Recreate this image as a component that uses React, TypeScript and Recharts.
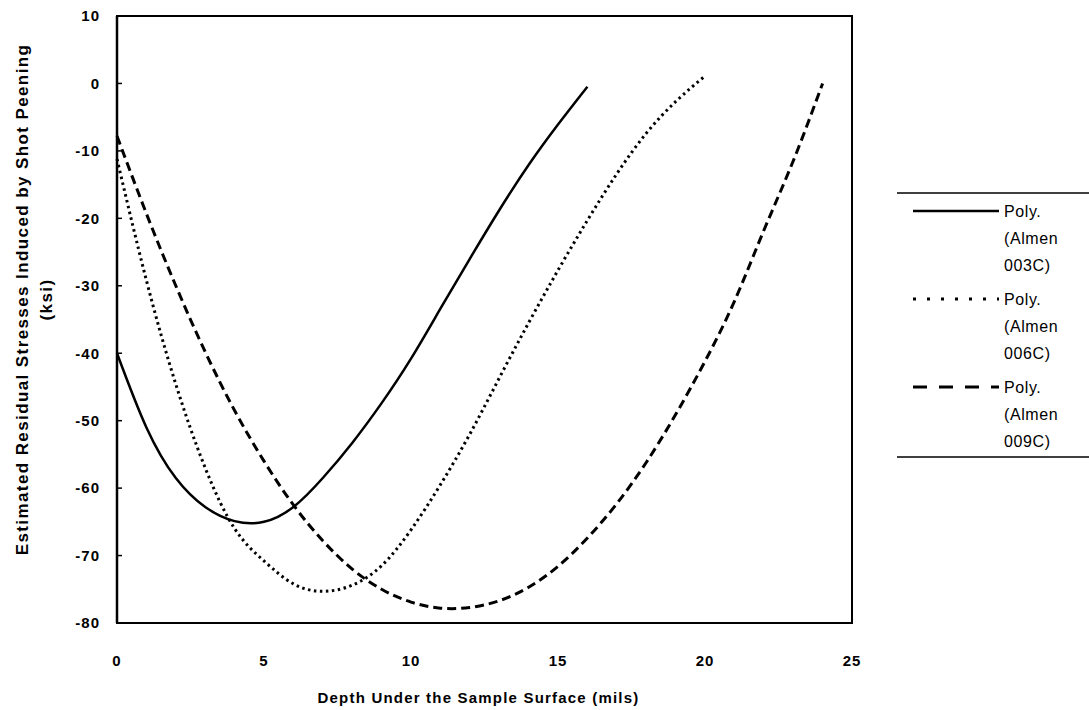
import { LineChart, Line, XAxis, YAxis, ReferenceArea, Legend, Label } from "recharts";

// depth (mils) vs. estimated residual stress (ksi), one polynomial fit per Almen intensity
const depth003C = [0, 1, 2, 3, 4, 5, 6, 7, 8, 9, 10, 11, 12, 13, 14, 15, 16];
const stress003C = [
  -40, -51, -58.5, -62.8, -64.9, -65.0, -62.8, -58.5, -53.3, -47.4, -40.8, -33.4, -26.0, -18.8, -12.1, -6.1, -0.5,
];

const depth006C = [0, 1, 2, 3, 4, 5, 6, 7, 8, 9, 10, 11, 12, 13, 14, 15, 16, 17, 18, 19, 20];
const stress006C = [
  -11.2, -29.2, -44.6, -57.0, -66.0, -70.8, -74.2, -75.3, -74.4, -71.5, -66.2, -59.5, -52.0, -43.7, -35.5, -27.7,
  -20.3, -13.4, -7.4, -2.7, 1.1,
];

const depth009C = [0, 1, 2, 3, 4, 5, 6, 7, 8, 9, 10, 11, 12, 13, 14, 15, 16, 17, 18, 19, 20, 21, 22, 23, 24];
const stress009C = [
  -7.8, -19.3, -30.0, -39.8, -48.5, -56.0, -62.5, -67.8, -72.0, -75.0, -76.9, -77.8, -77.7, -76.7, -74.7, -71.6,
  -67.4, -62.3, -56.2, -49.1, -41.2, -32.3, -21.8, -11.5, 0,
];

const xTicks = [0, 5, 10, 15, 20, 25];
const yTicks = [-80, -70, -60, -50, -40, -30, -20, -10, 0, 10];

const toPoints = (xs: number[], ys: number[]) => xs.map((x, i) => ({ x, y: ys[i] }));

const series = [
  { key: "003C", data: toPoints(depth003C, stress003C), dash: undefined, legendDash: undefined, width: 2.5 },
  { key: "006C", data: toPoints(depth006C, stress006C), dash: "2.5 3.5", legendDash: "3 11", width: 3 },
  { key: "009C", data: toPoints(depth009C, stress009C), dash: "9 5", legendDash: "14 12", width: 3 },
];

const FONT = "Arial, 'Liberation Sans', Helvetica, sans-serif";
const tickStyle = { fontFamily: FONT, fontSize: 15, fontWeight: 700, fill: "#000", letterSpacing: 1 };

const LEGEND_GAP = 88;

function LegendBox() {
  return (
    <svg width={194} height={272} style={{ display: "block" }}>
      <line x1={2} x2={194} y1={3} y2={3} stroke="#000" strokeWidth={1.5} />
      {series.map((s, i) => {
        const y = 21 + i * LEGEND_GAP;
        return (
          <g key={s.key}>
            <line x1={18} x2={104} y1={y} y2={y} stroke="#000" strokeWidth={s.width} strokeDasharray={s.legendDash} />
            <text
              x={109}
              y={y}
              fontFamily={FONT}
              fontSize={16}
              letterSpacing={0.6}
              fill="#000"
              dominantBaseline="central"
            >
              <tspan x={109} dy={0}>Poly.</tspan>
              <tspan x={109} dy={27}>(Almen</tspan>
              <tspan x={109} dy={27}>{s.key})</tspan>
            </text>
          </g>
        );
      })}
      <line x1={2} x2={194} y1={267} y2={267} stroke="#000" strokeWidth={1.5} />
    </svg>
  );
}

function YTitle(props: any) {
  const { viewBox } = props;
  const cy = viewBox.y + viewBox.height / 2 - 20;
  const lines = [
    { x: 22, text: "Estimated Residual Stresses Induced by Shot Peening" },
    { x: 46, text: "(ksi)" },
  ];
  return (
    <g>
      {lines.map((l) => (
        <text
          key={l.x}
          x={l.x}
          y={cy}
          transform={`rotate(-90, ${l.x}, ${cy})`}
          textAnchor="middle"
          dominantBaseline="central"
          fontFamily={FONT}
          fontSize={17}
          fontWeight={700}
          letterSpacing={1.4}
          fill="#000"
        >
          {l.text}
        </text>
      ))}
    </g>
  );
}

function XTitle(props: any) {
  const { viewBox } = props;
  return (
    <text
      x={viewBox.x + viewBox.width / 2 - 6}
      y={697}
      textAnchor="middle"
      dominantBaseline="central"
      fontFamily={FONT}
      fontSize={15}
      fontWeight={700}
      letterSpacing={1.2}
      fill="#000"
    >
      Depth Under the Sample Surface (mils)
    </text>
  );
}

export default function App() {
  return (
    <div style={{ position: "absolute", left: 0, top: 0, width: 1089, height: 710, background: "#fff" }}>
      <LineChart width={1089} height={710} margin={{ top: 16, right: 237, bottom: 0, left: 0 }}>
        <XAxis
          dataKey="x"
          type="number"
          domain={[0, 25]}
          ticks={xTicks}
          allowDuplicatedCategory={false}
          height={87}
          axisLine={{ stroke: "#000", strokeWidth: 2 }}
          tickLine={false}
          tickMargin={26}
          tick={tickStyle}
        >
          <Label content={XTitle} />
        </XAxis>
        <YAxis
          type="number"
          domain={[-80, 10]}
          ticks={yTicks}
          width={117}
          axisLine={{ stroke: "#000", strokeWidth: 2.5 }}
          tickLine={{ stroke: "#000", strokeWidth: 1.5 }}
          tickSize={-5}
          tickMargin={22}
          tick={tickStyle}
        >
          <Label content={YTitle} />
        </YAxis>
        <ReferenceArea x1={0} x2={25} y1={-80} y2={10} fill="none" stroke="#000" strokeWidth={2} />
        {series.map((s) => (
          <Line
            key={s.key}
            data={s.data}
            dataKey="y"
            name={`Poly. (Almen ${s.key})`}
            type="natural"
            stroke="#000"
            strokeWidth={s.width}
            strokeDasharray={s.dash}
            dot={false}
            activeDot={false}
            isAnimationActive={false}
          />
        ))}
        <Legend
          layout="vertical"
          align="center"
          verticalAlign="middle"
          content={() => <LegendBox />}
          wrapperStyle={{ left: 895, top: 190, width: 194, height: 272 }}
        />
      </LineChart>
    </div>
  );
}
